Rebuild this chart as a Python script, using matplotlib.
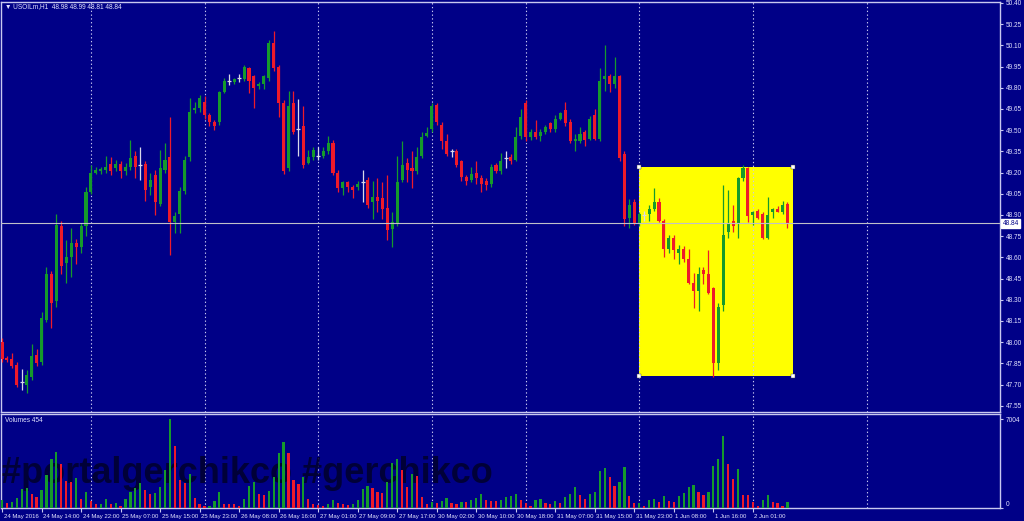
import matplotlib
matplotlib.use("Agg")
import matplotlib.pyplot as plt
import matplotlib.transforms as mtransforms
from matplotlib.patches import Rectangle
import numpy as np

plt.rcParams["font.family"] = ["Liberation Sans", "DejaVu Sans"]

symbol = "USOILm,H1"
days = ["24 May", "25 May", "26 May", "27 May", "30 May", "31 May", "1 Jun", "2 Jun"]
first_hour = [6, 1, 1, 1, 1, 1, 1, 1]
last_hour = [23, 23, 23, 23, 19, 23, 23, 8]
year = 2016

opens = [
    48.00, 47.89, 47.88, 47.84, 47.72, 47.70, 47.75, 47.91, 47.86, 48.16,
    48.48, 48.29, 48.82, 48.56, 48.60, 48.70, 48.67, 48.82, 49.06, 49.20,
    49.21, 49.22, 49.26, 49.23, 49.26, 49.21, 49.24, 49.32, 49.25, 49.26,
    49.10, 49.18, 48.98, 49.22, 49.31, 48.85, 48.91, 49.07, 49.31, 49.64,
    49.66, 49.70, 49.61, 49.56, 49.56, 49.77, 49.85, 49.84, 49.87, 49.86,
    49.94, 49.88, 49.81, 49.83, 49.87, 50.12, 49.95, 49.69, 49.23, 49.69,
    49.51, 49.53, 49.27, 49.31, 49.32, 49.32, 49.35, 49.41, 49.20, 49.09,
    49.13, 49.10, 49.10, 49.13, 49.15, 48.99, 49.03, 49.02, 48.95, 48.80,
    48.84, 49.15, 49.27, 49.23, 49.21, 49.32, 49.46, 49.51, 49.68, 49.54,
    49.42, 49.35, 49.35, 49.28, 49.17, 49.15, 49.20, 49.16, 49.14, 49.12,
    49.25, 49.21, 49.30, 49.31, 49.29, 49.46, 49.69, 49.45, 49.49, 49.46,
    49.49, 49.55, 49.51, 49.58, 49.64, 49.56, 49.42, 49.42, 49.49, 49.44,
    49.61, 49.44, 49.86, 49.88, 49.83, 49.88, 49.33, 48.88, 48.99, 48.84,
    48.90, 48.91, 48.94, 48.99, 48.86, 48.66, 48.74, 48.63, 48.66, 48.59,
    48.42, 48.36, 48.51, 48.48, 48.38, 47.85, 48.26, 48.78, 48.86, 48.84,
    49.16, 49.23, 48.90, 48.93, 48.91, 48.74, 48.92, 48.94, 48.92, 48.98,
]
highs = [
    48.03, 47.90, 47.92, 47.86, 47.81, 47.80, 47.99, 47.95, 48.21, 48.53,
    48.50, 48.91, 48.86, 48.72, 48.81, 48.73, 48.84, 49.10, 49.25, 49.24,
    49.24, 49.32, 49.31, 49.29, 49.28, 49.27, 49.43, 49.35, 49.38, 49.28,
    49.20, 49.22, 49.36, 49.41, 49.59, 48.92, 49.10, 49.32, 49.73, 49.70,
    49.75, 49.74, 49.62, 49.57, 49.78, 49.87, 49.90, 49.87, 49.90, 49.96,
    49.95, 49.89, 49.84, 49.89, 50.14, 50.20, 49.96, 49.71, 49.78, 49.78,
    49.72, 49.67, 49.36, 49.38, 49.38, 49.38, 49.46, 49.43, 49.22, 49.14,
    49.14, 49.11, 49.14, 49.22, 49.17, 49.14, 49.16, 49.13, 49.18, 48.92,
    49.32, 49.42, 49.30, 49.35, 49.38, 49.49, 49.52, 49.69, 49.69, 49.56,
    49.47, 49.37, 49.37, 49.29, 49.18, 49.24, 49.28, 49.18, 49.16, 49.26,
    49.27, 49.34, 49.35, 49.33, 49.52, 49.65, 49.71, 49.51, 49.57, 49.51,
    49.54, 49.56, 49.61, 49.63, 49.70, 49.58, 49.47, 49.52, 49.50, 49.60,
    49.65, 49.94, 50.10, 49.90, 50.02, 49.89, 49.35, 49.01, 49.01, 48.92,
    48.93, 48.97, 49.09, 49.02, 48.87, 48.76, 48.76, 48.69, 48.68, 48.66,
    48.49, 48.53, 48.53, 48.65, 48.39, 48.28, 49.11, 49.08, 48.97, 49.17,
    49.25, 49.24, 48.93, 48.94, 48.92, 49.03, 48.95, 48.96, 49.00, 48.99,
]
lows = [
    47.86, 47.86, 47.82, 47.68, 47.66, 47.64, 47.73, 47.83, 47.84, 48.14,
    48.10, 48.25, 48.48, 48.42, 48.46, 48.55, 48.63, 48.75, 49.05, 49.19,
    49.19, 49.20, 49.18, 49.21, 49.16, 49.18, 49.22, 49.16, 49.15, 49.00,
    49.04, 48.90, 48.96, 49.20, 48.62, 48.77, 48.77, 49.05, 49.28, 49.62,
    49.63, 49.58, 49.53, 49.50, 49.54, 49.76, 49.82, 49.83, 49.84, 49.85,
    49.76, 49.66, 49.79, 49.79, 49.85, 49.92, 49.59, 49.19, 49.21, 49.47,
    49.32, 49.23, 49.26, 49.29, 49.29, 49.30, 49.33, 49.18, 49.06, 49.04,
    49.06, 49.02, 49.08, 48.99, 48.95, 48.87, 48.92, 48.87, 48.72, 48.67,
    48.82, 49.13, 49.13, 49.09, 49.19, 49.30, 49.45, 49.49, 49.54, 49.37,
    49.32, 49.31, 49.24, 49.14, 49.11, 49.13, 49.12, 49.06, 49.08, 49.10,
    49.20, 49.19, 49.23, 49.26, 49.28, 49.44, 49.42, 49.43, 49.44, 49.42,
    49.47, 49.49, 49.49, 49.57, 49.53, 49.41, 49.35, 49.41, 49.39, 49.43,
    49.43, 49.42, 49.78, 49.77, 49.80, 49.28, 48.82, 48.81, 48.83, 48.82,
    48.86, 48.86, 48.93, 48.85, 48.60, 48.63, 48.59, 48.55, 48.57, 48.41,
    48.24, 48.22, 48.41, 48.34, 47.75, 47.80, 48.22, 48.74, 48.78, 48.74,
    49.14, 48.85, 48.83, 48.87, 48.73, 48.73, 48.88, 48.92, 48.91, 48.81,
]
closes = [
    47.88, 47.87, 47.83, 47.70, 47.72, 47.77, 47.90, 47.85, 48.17, 48.48,
    48.28, 48.83, 48.54, 48.60, 48.70, 48.67, 48.82, 49.06, 49.20, 49.22,
    49.22, 49.24, 49.21, 49.26, 49.21, 49.24, 49.30, 49.24, 49.25, 49.08,
    49.15, 48.99, 49.23, 49.29, 48.85, 48.89, 49.07, 49.29, 49.63, 49.66,
    49.73, 49.61, 49.56, 49.53, 49.77, 49.85, 49.85, 49.86, 49.87, 49.95,
    49.85, 49.80, 49.83, 49.88, 50.12, 49.94, 49.69, 49.21, 49.67, 49.49,
    49.51, 49.25, 49.31, 49.36, 49.32, 49.35, 49.41, 49.20, 49.09, 49.13,
    49.10, 49.08, 49.12, 49.13, 48.97, 49.03, 49.00, 48.94, 48.79, 48.85,
    49.13, 49.25, 49.22, 49.21, 49.31, 49.45, 49.48, 49.67, 49.56, 49.42,
    49.33, 49.35, 49.25, 49.17, 49.14, 49.19, 49.16, 49.12, 49.11, 49.24,
    49.21, 49.28, 49.30, 49.28, 49.45, 49.59, 49.45, 49.49, 49.45, 49.49,
    49.52, 49.51, 49.58, 49.62, 49.55, 49.42, 49.44, 49.47, 49.43, 49.58,
    49.44, 49.85, 49.88, 49.83, 49.88, 49.30, 48.87, 48.97, 48.84, 48.91,
    48.90, 48.94, 48.99, 48.86, 48.66, 48.74, 48.65, 48.66, 48.59, 48.42,
    48.36, 48.48, 48.48, 48.35, 47.85, 48.25, 48.76, 48.84, 48.82, 49.16,
    49.23, 48.89, 48.92, 48.88, 48.74, 48.90, 48.94, 48.92, 48.97, 48.84,
]
volumes = [
    612, 399, 452, 825, 1490, 1543, 1064, 878, 1410, 2607,
    3884, 4416, 3485, 2128, 2075, 2394, 745, 1224, 532, 293,
    346, 745, 293, 399, 133, 692, 1277, 1543, 1995, 1410,
    1091, 1144, 1623, 2953, 7004, 4868, 2208, 1995, 2687, 825,
    293, 133, 186, 559, 1250, 346, 340, 293, 133, 745,
    1729, 2048, 1064, 1011, 1357, 2421, 4336, 5187, 4336, 2208,
    1889, 2474, 745, 293, 239, 133, 293, 612, 399, 346,
    239, 293, 665, 1463, 1756, 1596, 1224, 1197, 2075, 3538,
    3857, 3006, 1623, 2687, 2527, 878, 293, 452, 399, 559,
    771, 399, 293, 479, 470, 665, 798, 1064, 612, 559,
    532, 665, 878, 931, 1064, 612, 426, 133, 612, 718,
    399, 293, 532, 399, 878, 1091, 1623, 1011, 718, 1064,
    1224, 2926, 3139, 2474, 1729, 2022, 3219, 931, 399, 426,
    186, 612, 718, 479, 958, 532, 505, 931, 1144, 1623,
    1809, 1250, 1037, 1277, 3272, 3857, 5666, 3458, 2261, 3059,
    1011, 984, 479, 186, 612, 984, 452, 399, 160, 454,
]
price_ticks = [50.40, 50.25, 50.10, 49.95, 49.80, 49.65, 49.50, 49.35, 49.20,
               49.05, 48.90, 48.75, 48.60, 48.45, 48.30, 48.15, 48.00, 47.85,
               47.70, 47.55]
box_bars = (129, 160.1)
box_prices = (47.76, 49.24)
watermark = "#portalgerchikco #gerchikco"

BG = "#000087"
FG = "#c8c8f0"
TXT = "#e4e4ff"
UP = "#159a2c"
DOWN = "#ee1a2a"
DOJI = "#d8d8e8"
FS = 4.7

# bar times
bar_day, bar_hour = [], []
for d, h0, h1 in zip(days, first_hour, last_hour):
    for hr in range(h0, h1 + 1):
        bar_day.append(d)
        bar_hour.append(hr)
n = len(opens)
x = np.arange(n)
day_starts = [i for i in range(n) if bar_hour[i] == 1]
day_starts.append(day_starts[-1] + 23)

o = np.array(opens); h = np.array(highs); l = np.array(lows); c = np.array(closes)

W, H = 1024, 521
fig = plt.figure(figsize=(W / 100, H / 100), dpi=100, facecolor=BG)
dx = 4.94
x_left = -1 / dx
x_right = (1000 - 2) / dx


def px_axes(x0, y0, x1, y1):
    return fig.add_axes([x0 / W, 1 - y1 / H, (x1 - x0) / W, (y1 - y0) / H])


ax = px_axes(1, 2, 1000, 412)
axv = px_axes(1, 414, 1000, 508)
for a in (ax, axv):
    a.set_facecolor(BG)
    a.set_xlim(x_left, x_right)
    for s in a.spines.values():
        s.set_color(FG)
        s.set_linewidth(1.0)
    for d0 in day_starts:
        a.axvline(d0, color=FG, lw=0.8, ls=(0, (1.2, 2.2)), zorder=1)

# price scale: 141.3 px per 1.00, 50.40 at y=3
ppu = 141.3
ax.set_ylim(50.40 - (412 - 3) / ppu, 50.40 + 1 / ppu)

ax.add_patch(Rectangle((box_bars[0], box_prices[0]), box_bars[1] - box_bars[0],
                       box_prices[1] - box_prices[0], facecolor="#ffff00",
                       edgecolor="none", zorder=0.5))
for bx in box_bars:
    for by in box_prices:
        ax.plot(bx, by, marker="s", ms=2.4, color="white", mec="#404040",
                mew=0.3, zorder=6, clip_on=False)

up = c > o
down = c < o
doji = c == o
ax.vlines(x[up], l[up], h[up], color=UP, lw=0.9, zorder=3)
ax.vlines(x[down], l[down], h[down], color=DOWN, lw=0.9, zorder=3)
ax.vlines(x[doji], l[doji], h[doji], color=DOJI, lw=0.9, zorder=3)
ax.bar(x[up], np.maximum(c[up] - o[up], 0.012), bottom=o[up], width=0.62,
       color=UP, lw=0, zorder=4)
ax.bar(x[down], np.maximum(o[down] - c[down], 0.012), bottom=c[down], width=0.62,
       color=DOWN, lw=0, zorder=4)
ax.hlines(o[doji], x[doji] - 0.4, x[doji] + 0.4, color=DOJI, lw=0.9, zorder=4)

last = closes[-1]
ax.axhline(last, color="#c0c0c8", lw=0.8, zorder=5)

ax.yaxis.tick_right()
ax.set_yticks(price_ticks)
ax.set_yticklabels([f"{p:.2f}" for p in price_ticks])
ax.tick_params(axis="y", colors=FG, labelcolor=TXT, labelsize=FS,
               length=2.5, width=0.8, pad=1.5)
ax.set_xticks([])
trans = mtransforms.blended_transform_factory(ax.transAxes, ax.transData)
ax.text(1.0025, last, f"{last:.2f}", transform=trans, fontsize=FS, color=BG,
        va="center", ha="left", zorder=10,
        bbox=dict(boxstyle="square,pad=0.2", fc="white", ec="white"))

# volumes
vol = np.array(volumes)
vcol = [UP] + [UP if vol[i] >= vol[i - 1] else DOWN for i in range(1, n)]
vmax = vol.max()
axv.set_ylim(0, vmax * (508 - 414) / (508 - 419))
axv.text(0.0, 0.37, watermark, transform=axv.transAxes, fontsize=26,
         family="Liberation Sans", weight="bold", color="#00002a", alpha=0.85,
         va="center", ha="left", zorder=2)
axv.bar(x, vol, width=0.45, color=vcol, lw=0, zorder=3)
axv.yaxis.tick_right()
axv.set_yticks([0, vmax])
axv.set_yticklabels(["0", str(vmax)])
axv.tick_params(axis="y", colors=FG, labelcolor=TXT, labelsize=FS,
                length=2.5, width=0.8, pad=1.5)
axv.get_yticklabels()[0].set_va("bottom")

label_idx = list(range(0, n, 8))
labels = []
for i in label_idx:
    if i == 0:
        labels.append(f"{bar_day[i]} {year}")
    else:
        labels.append(f"{bar_day[i]} {bar_hour[i]:02d}:00")
axv.set_xticks(label_idx)
axv.set_xticklabels(labels, ha="left")
axv.tick_params(axis="x", colors=FG, labelcolor=TXT, labelsize=4.3,
                length=3, width=0.8, pad=1.5)
shift = mtransforms.ScaledTranslation(1.5 / 100, 0, fig.dpi_scale_trans)
for t in axv.get_xticklabels():
    t.set_transform(t.get_transform() + shift)

fig.text(5 / W, 1 - 7 / H,
         f"\u25bc {symbol}  {opens[-1]:.2f} {highs[-1]:.2f} {lows[-1]:.2f} {closes[-1]:.2f}",
         fontsize=FS, color=TXT, va="center", ha="left")
fig.text(5 / W, 1 - 420 / H, f"Volumes {volumes[-1]}", fontsize=FS,
         color=TXT, va="center", ha="left")

fig.savefig("out.png", dpi=100, facecolor=BG)
